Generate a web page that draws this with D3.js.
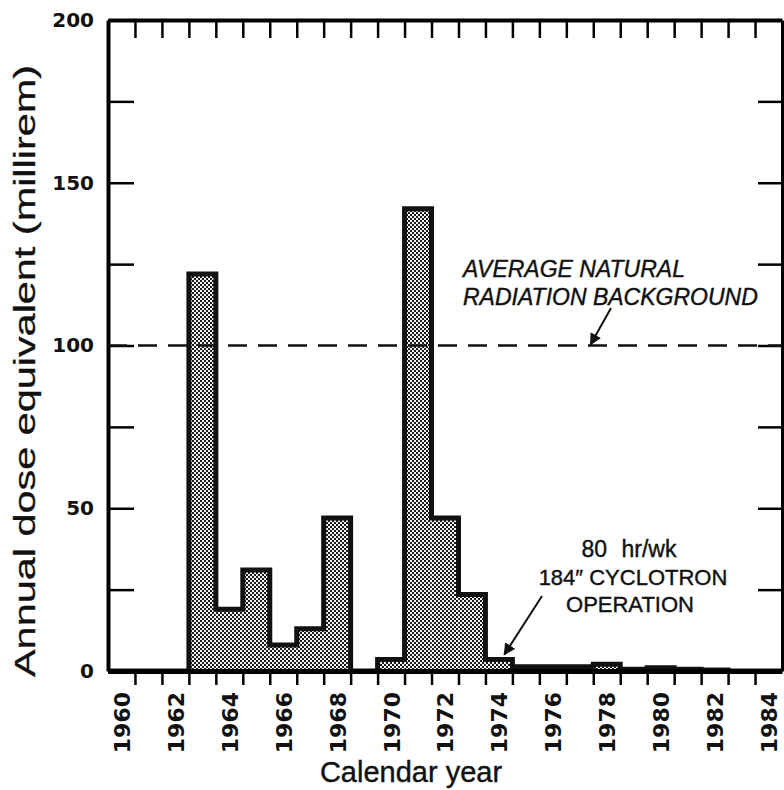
<!DOCTYPE html>
<html>
<head>
<meta charset="utf-8">
<script src="https://cdn.jsdelivr.net/npm/d3@7"></script>
<style>
  body { margin: 0; background: #fff; }
  svg { display: block; }
  text { fill: #111; }
</style>
</head>
<body>
<svg></svg>
<script>
const width = 784;
const height = 790;

// data
const years = [1960, 1961, 1962, 1963, 1964, 1965, 1966, 1967, 1968, 1969, 1970, 1971,
  1972, 1973, 1974, 1975, 1976, 1977, 1978, 1979, 1980, 1981, 1982, 1983, 1984];
const dose = [0, 0, 0, 122, 19, 31, 8, 13, 47, 0, 3.5, 142,
  47, 23.5, 3.5, 1.3, 1.3, 1.3, 2.1, 0.5, 1.0, 0.5, 0.3, 0, 0];
const yearLabels = ['1960', '1962', '1964', '1966', '1968', '1970', '1972',
  '1974', '1976', '1978', '1980', '1982', '1984'];
const yTicks = [0, 25, 50, 75, 100, 125, 150, 175, 200];
const yTickLabels = [0, 50, 100, 150, 200];
const background = 100;

const plotLeft = 108, plotRight = 782, plotTop = 20, plotBottom = 671;

const svg = d3.select('svg')
  .attr('width', width)
  .attr('height', height);

const xScale = d3.scaleLinear()
  .domain([years[0], years[years.length - 1] + 1])
  .range([plotLeft, plotRight]);

const yScale = d3.scaleLinear()
  .domain([0, 200])
  .range([plotBottom, plotTop]);

// stipple fill like the halftone in the scan
const defs = svg.append('defs');
const pat = defs.append('pattern')
  .attr('id', 'dots')
  .attr('width', 4)
  .attr('height', 4)
  .attr('patternUnits', 'userSpaceOnUse');
pat.append('rect').attr('width', 4).attr('height', 4).attr('fill', '#f4f4f4');
pat.append('rect').attr('width', 2).attr('height', 2).attr('fill', '#1a1a1a');
pat.append('rect').attr('x', 2).attr('y', 2).attr('width', 2).attr('height', 2).attr('fill', '#1a1a1a');

defs.append('marker')
  .attr('id', 'head')
  .attr('viewBox', '0 0 10 10')
  .attr('refX', 9)
  .attr('refY', 5)
  .attr('markerWidth', 6)
  .attr('markerHeight', 6)
  .attr('markerUnits', 'strokeWidth')
  .attr('orient', 'auto')
  .append('path')
  .attr('d', 'M0,0 L10,5 L0,10 Z')
  .attr('fill', '#111');

// ====================================
// Bars
// ====================================
const bars = years.map((yr, i) => ({ year: yr, value: dose[i] }));

svg.selectAll('rect.bar')
  .data(bars.filter(d => d.value > 0))
  .enter()
  .append('rect')
  .attr('class', 'bar')
  .attr('x', d => xScale(d.year))
  .attr('y', d => yScale(d.value))
  .attr('width', d => xScale(d.year + 1) - xScale(d.year))
  .attr('height', d => yScale(0) - yScale(d.value))
  .attr('fill', 'url(#dots)');

const stepPoints = bars.map(d => [d.year, d.value]);
stepPoints.push([years[years.length - 1] + 1, 0]);

const step = d3.line()
  .x(d => xScale(d[0]))
  .y(d => yScale(d[1]))
  .curve(d3.curveStepAfter);

svg.append('path')
  .attr('d', step(stepPoints))
  .attr('fill', 'none')
  .attr('stroke', '#111')
  .attr('stroke-width', 5)
  .attr('stroke-linejoin', 'miter');

// ====================================
// Axes (ticks all point inward, except bottom)
// ====================================
const axisFont = size => g => g.selectAll('text')
  .attr('font-family', 'DejaVu Sans, sans-serif')
  .attr('font-weight', 'bold')
  .attr('font-size', size)
  .attr('fill', '#111');

const leftAxis = d3.axisLeft(yScale)
  .tickValues(yTicks)
  .tickSizeInner(-26)
  .tickSizeOuter(0)
  .tickPadding(14)
  .tickFormat(d => yTickLabels.includes(d) ? d : '');

svg.append('g')
  .attr('transform', `translate(${plotLeft}, 0)`)
  .call(leftAxis)
  .call(axisFont(20))
  .call(g => g.select('.domain').attr('stroke-width', 4))
  .call(g => g.selectAll('.tick line').attr('stroke-width', 2.5));

const rightAxis = d3.axisRight(yScale)
  .tickValues(yTicks)
  .tickSizeInner(-24)
  .tickSizeOuter(0)
  .tickFormat('');

svg.append('g')
  .attr('transform', `translate(${plotRight}, 0)`)
  .call(rightAxis)
  .call(g => g.select('.domain').attr('stroke-width', 3))
  .call(g => g.selectAll('.tick line').attr('stroke-width', 2.5));

const boundaries = years.slice(1);

const topAxis = d3.axisTop(xScale)
  .tickValues(boundaries)
  .tickSizeInner(-18)
  .tickSizeOuter(0)
  .tickFormat('');

svg.append('g')
  .attr('transform', `translate(0, ${plotTop})`)
  .call(topAxis)
  .call(g => g.select('.domain').attr('stroke-width', 4))
  .call(g => g.selectAll('.tick line').attr('stroke-width', 2.5));

const bottomAxis = d3.axisBottom(xScale)
  .tickValues(boundaries)
  .tickSizeInner(14)
  .tickSizeOuter(0)
  .tickFormat('');

svg.append('g')
  .attr('transform', `translate(0, ${plotBottom})`)
  .call(bottomAxis)
  .call(g => g.select('.domain').attr('stroke-width', 5))
  .call(g => g.selectAll('.tick line').attr('stroke-width', 2.5));

// year labels sit in the middle of each year, rotated
const labelAxis = d3.axisBottom(xScale)
  .tickValues(yearLabels.map(s => +s + 0.5))
  .tickSize(0)
  .tickFormat(d => yearLabels.find(s => +s === Math.floor(d)));

svg.append('g')
  .attr('transform', `translate(0, ${plotBottom})`)
  .call(labelAxis)
  .call(axisFont(22))
  .call(g => g.select('.domain').remove())
  .call(g => g.selectAll('text')
    .attr('transform', 'rotate(-90)')
    .attr('x', -21)
    .attr('y', 0)
    .attr('dy', '0.36em')
    .attr('text-anchor', 'end'));

// ====================================
// Background line + notes
// ====================================
svg.append('line')
  .attr('x1', plotLeft)
  .attr('x2', plotRight)
  .attr('y1', yScale(background))
  .attr('y2', yScale(background))
  .attr('stroke', '#111')
  .attr('stroke-width', 2.5)
  .attr('stroke-dasharray', '19,11');

const note1 = svg.append('text')
  .attr('x', 463)
  .attr('y', 277)
  .attr('font-family', 'Liberation Sans, Arial, sans-serif')
  .attr('font-style', 'italic')
  .attr('font-size', 23)
  .attr('stroke', '#111')
  .attr('stroke-width', 0.4);
note1.append('tspan').attr('x', 463).text('AVERAGE NATURAL');
note1.append('tspan').attr('x', 463).attr('dy', 28).text('RADIATION BACKGROUND');

svg.append('line')
  .attr('x1', 611)
  .attr('y1', 308)
  .attr('x2', xScale(1977.9))
  .attr('y2', yScale(background) - 1)
  .attr('stroke', '#111')
  .attr('stroke-width', 2)
  .attr('marker-end', 'url(#head)');

const note2 = svg.append('text')
  .attr('x', 629)
  .attr('y', 557)
  .attr('text-anchor', 'middle')
  .attr('font-family', 'Liberation Sans, Arial, sans-serif')
  .attr('font-size', 22)
  .attr('stroke', '#111')
  .attr('stroke-width', 0.4);
note2.append('tspan').attr('x', 629).attr('font-size', 23).attr('word-spacing', 8).text('80 hr/wk');
note2.append('tspan').attr('x', 633).attr('dy', 28).text('184\u2033 CYCLOTRON');
note2.append('tspan').attr('x', 630).attr('dy', 27).text('OPERATION');

svg.append('line')
  .attr('x1', 542)
  .attr('y1', 596)
  .attr('x2', xScale(1974.7))
  .attr('y2', yScale(dose[14]) - 5)
  .attr('stroke', '#111')
  .attr('stroke-width', 2)
  .attr('marker-end', 'url(#head)');

// ====================================
// Axis titles
// ====================================
svg.append('text')
  .text('Calendar year')
  .attr('x', 411)
  .attr('y', 782)
  .attr('text-anchor', 'middle')
  .attr('font-family', 'Liberation Sans, Arial, sans-serif')
  .attr('font-size', 29)
  .attr('stroke', '#111')
  .attr('stroke-width', 0.4);

svg.append('text')
  .text('Annual dose equivalent (millirem)')
  .attr('transform', `translate(35, 371) rotate(-90)`)
  .attr('text-anchor', 'middle')
  .attr('font-family', 'Liberation Sans, Arial, sans-serif')
  .attr('font-size', 29)
  .attr('textLength', 612)
  .attr('lengthAdjust', 'spacingAndGlyphs')
  .attr('stroke', '#111')
  .attr('stroke-width', 0.3);
</script>
</body>
</html>
